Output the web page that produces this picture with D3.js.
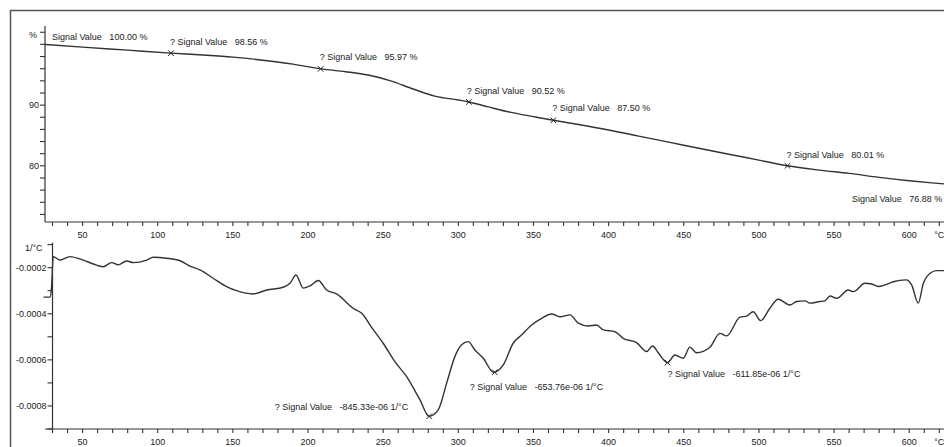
<!DOCTYPE html>
<html>
<head>
<meta charset="utf-8">
<script src="https://cdn.jsdelivr.net/npm/d3@7/dist/d3.min.js"></script>
<style>
  html, body { margin: 0; padding: 0; background: #fff; overflow: hidden; }
  svg { display: block; }
  text { font-family: "Liberation Sans", Arial, sans-serif; fill: #222; }
  .ann { font-size: 9px; white-space: pre; }
  .tick { font-size: 9px; }
</style>
</head>
<body>
<svg id="chart" width="944" height="447"></svg>
<script>
// ---------- data ----------
// TG curve (mass %, vs temperature °C)
const tgTemp  = [25, 50, 80, 108.8, 130, 150, 170, 190, 208.4, 225, 240, 255, 270, 285, 300, 307, 320, 335, 350, 363.2, 380, 400, 420, 440, 460, 480, 500, 519, 540, 560, 580, 600, 615, 630];
const tgValue = [100.0, 99.55, 99.05, 98.56, 98.25, 97.9, 97.4, 96.75, 95.97, 95.5, 94.95, 94.0, 92.65, 91.45, 90.85, 90.52, 89.7, 88.8, 88.1, 87.5, 86.8, 85.9, 84.9, 83.9, 82.9, 81.9, 80.95, 80.01, 79.3, 78.75, 78.1, 77.55, 77.2, 76.88];

// DTG curve (1/°C, vs temperature °C)
const dtgTemp = [24, 28.3, 29.3, 30.5, 34.9, 41.6, 50.4, 57.1, 63.7, 69.3, 73.7, 79.3, 83.7, 92.6, 97, 105.9, 114.8, 121.4, 128.1, 136.9, 145.8, 152.5, 163.5, 172.5, 183.5, 188, 192, 196.8, 201.3, 206.8, 212.4, 219, 230, 235.7, 242.3, 250, 257.8, 265.6, 274.5, 280.6, 286.6, 292.2, 297.7, 302.2, 306.6, 311, 316.6, 323.5, 329.9, 336.5, 342.1, 348.8, 355.4, 362.1, 367.6, 374.3, 379.8, 386.4, 392, 396.4, 404.2, 409.7, 418.6, 425.3, 429.2, 433, 439.2, 444.1, 449.6, 454.1, 458.5, 467.4, 474, 478.5, 487.4, 491.8, 496.2, 501.1, 507.3, 512.8, 520.6, 525.1, 530.6, 533.9, 540.6, 543.9, 547.3, 551.7, 559.4, 562.8, 570.6, 575, 579.4, 583.9, 589.4, 597.9, 601.6, 606, 609.4, 613.9, 618.3, 625];
const dtgValue = [-3.28, -3.28, -2.9, -1.52, -1.67, -1.52, -1.67, -1.84, -1.96, -1.78, -1.88, -1.71, -1.78, -1.67, -1.55, -1.59, -1.70, -1.93, -2.10, -2.46, -2.82, -3.0, -3.14, -2.97, -2.85, -2.68, -2.32, -2.89, -2.79, -2.56, -2.97, -3.14, -3.76, -3.98, -4.59, -5.28, -6.08, -6.73, -7.74, -8.45, -8.17, -7.02, -5.86, -5.35, -5.21, -5.57, -5.93, -6.54, -6.22, -5.28, -4.92, -4.49, -4.20, -4.01, -4.13, -4.05, -4.41, -4.53, -4.49, -4.70, -4.78, -5.07, -5.25, -5.64, -5.40, -5.69, -6.12, -5.79, -5.93, -5.45, -5.69, -5.45, -4.85, -4.96, -4.15, -4.10, -3.91, -4.30, -3.76, -3.37, -3.62, -3.47, -3.44, -3.54, -3.47, -3.44, -3.23, -3.33, -2.97, -3.04, -2.68, -2.71, -2.82, -2.75, -2.61, -2.53, -2.75, -3.54, -2.68, -2.24, -2.13, -2.13].map(v => v * 1e-4);

// Signal-value annotations
const tgMarkTemp  = [25, 108.8, 208.4, 307, 363.2, 519, 630];
const tgMarkValue = [100.0, 98.56, 95.97, 90.52, 87.50, 80.01, 76.88];
const tgMarkText  = ["Signal Value   100.00 %", "? Signal Value   98.56 %", "? Signal Value   95.97 %", "? Signal Value   90.52 %", "? Signal Value   87.50 %", "? Signal Value   80.01 %", "Signal Value   76.88 %"];
const tgMarkCross = [false, true, true, true, true, true, false];

const dtgMarkTemp  = [280.6, 324.2, 439.2];
const dtgMarkValue = [-845.33e-6, -653.76e-6, -611.85e-6];
const dtgMarkText  = ["? Signal Value   -845.33e-06 1/°C", "? Signal Value   -653.76e-06 1/°C", "? Signal Value   -611.85e-06 1/°C"];

// Axis ticks
const xMinorTicks = d3.range(30, 621, 10);
const xLabelTicks = [50, 100, 150, 200, 250, 300, 350, 400, 450, 500, 550, 600];
const xUnit = "°C";
const tgMinorTicks = d3.range(72, 103, 2);
const tgLabelTicks = [80, 90];
const tgUnit = "%";
const dtgMinorTicks = [-0.0009, -0.0008, -0.0007, -0.0006, -0.0005, -0.0004, -0.0003, -0.0002, -0.0001];
const dtgLabelTicks = [-0.0008, -0.0006, -0.0004, -0.0002];
const dtgUnit = "1/°C";

// ---------- layout (positions/styles, not data) ----------
const tgLabelOffsets  = [[7, -8, "start"], [-1, -11, "start"], [-1, -12, "start"], [-2, -11, "start"], [-1, -12, "start"], [-1, -11, "start"], [-12, 14, "end"]];
const dtgLabelOffsets = [[-21, -10, "end"], [-25, 15, "start"], [0, 11, "start"]];

const svg = d3.select("#chart");
const ink = "#333";

// frame
svg.append("path").attr("d", "M10.5,1000V10.5H1000").attr("fill", "none").attr("stroke", "#555").attr("stroke-width", 1.5);

const x = d3.scaleLinear().domain([25, 625]).range([45, 946.8]);
const yTop = d3.scaleLinear().domain([70.75, 102.7]).range([222, 28]);
const yBot = d3.scaleLinear().domain([-0.0009, -0.0001]).range([429, 244.6]);

function xAxis(g, yPos, startX) {
  g.append("line").attr("x1", startX).attr("x2", 950).attr("y1", yPos).attr("y2", yPos).attr("stroke", ink).attr("stroke-width", 1.2);
  g.selectAll("line.t").data(xMinorTicks).join("line").attr("class", "t")
    .attr("x1", d => x(d)).attr("x2", d => x(d)).attr("y1", yPos).attr("y2", yPos + 4)
    .attr("stroke", ink).attr("stroke-width", 1.1);
  g.selectAll("text.l").data(xLabelTicks).join("text").attr("class", "l tick")
    .attr("x", d => x(d)).attr("y", yPos + 13).attr("dy", "0.35em").attr("text-anchor", "middle").text(d => d);
  g.append("text").attr("class", "tick").attr("x", x(620)).attr("y", yPos + 13).attr("dy", "0.35em").attr("text-anchor", "middle").text(xUnit);
}

function yAxis(g, scale, xPos, minor, labels, unit, unitVal, unitShift, fmt) {
  const [y0, y1] = scale.range();
  g.append("line").attr("x1", xPos).attr("x2", xPos).attr("y1", y0).attr("y2", y1 - 2).attr("stroke", ink).attr("stroke-width", 1.2);
  g.selectAll("line.t").data(minor).join("line").attr("class", "t")
    .attr("x1", xPos - 5).attr("x2", xPos).attr("y1", d => scale(d)).attr("y2", d => scale(d))
    .attr("stroke", ink).attr("stroke-width", 1.1);
  g.selectAll("text.l").data(labels).join("text").attr("class", "l tick")
    .attr("x", xPos - 6).attr("y", d => scale(d)).attr("dy", "0.35em").attr("text-anchor", "end").text(fmt);
  g.append("text").attr("class", "tick").attr("x", xPos - 6 - unitShift).attr("y", scale(unitVal) + 3).attr("dy", "0.35em").attr("text-anchor", "end").text(unit);
}

// axes
const gTop = svg.append("g");
xAxis(gTop.append("g"), 222, 45);
yAxis(gTop.append("g"), yTop, 45, tgMinorTicks, tgLabelTicks, tgUnit, 102, 2, d => d);

const gBot = svg.append("g");
xAxis(gBot.append("g"), 429, 45);
yAxis(gBot.append("g"), yBot, x(30), dtgMinorTicks, dtgLabelTicks, dtgUnit, -0.0001, 4, d => d.toFixed(4));

// curves
const tgData = tgTemp.map((t, i) => [t, tgValue[i]]);
const dtgData = dtgTemp.map((t, i) => [t, dtgValue[i]]);

svg.append("path").datum(tgData)
  .attr("d", d3.line().x(d => x(d[0])).y(d => yTop(d[1])).curve(d3.curveMonotoneX))
  .attr("fill", "none").attr("stroke", ink).attr("stroke-width", 1.4);

svg.append("path").datum(dtgData)
  .attr("d", d3.line().x(d => x(d[0])).y(d => yBot(d[1])).curve(d3.curveMonotoneX))
  .attr("fill", "none").attr("stroke", ink).attr("stroke-width", 1.4);

// markers & labels
function cross(g, cx, cy) {
  const s = 2.8;
  g.append("path").attr("d", `M${cx - s},${cy - s}L${cx + s},${cy + s}M${cx - s},${cy + s}L${cx + s},${cy - s}`)
    .attr("stroke", "#222").attr("stroke-width", 1);
}

const gAnn = svg.append("g");
tgMarkTemp.forEach((t, i) => {
  const cx = x(t), cy = yTop(tgMarkValue[i]);
  if (tgMarkCross[i]) cross(gAnn, cx, cy);
  const [dx, dy, anchor] = tgLabelOffsets[i];
  gAnn.append("text").attr("class", "ann").attr("x", cx + dx).attr("y", cy + dy).attr("dy", "0.35em")
    .attr("text-anchor", anchor).text(tgMarkText[i]);
});
dtgMarkTemp.forEach((t, i) => {
  const cx = x(t), cy = yBot(dtgMarkValue[i]);
  cross(gAnn, cx, cy);
  const [dx, dy, anchor] = dtgLabelOffsets[i];
  gAnn.append("text").attr("class", "ann").attr("x", cx + dx).attr("y", cy + dy).attr("dy", "0.35em")
    .attr("text-anchor", anchor).text(dtgMarkText[i]);
});
</script>
</body>
</html>
